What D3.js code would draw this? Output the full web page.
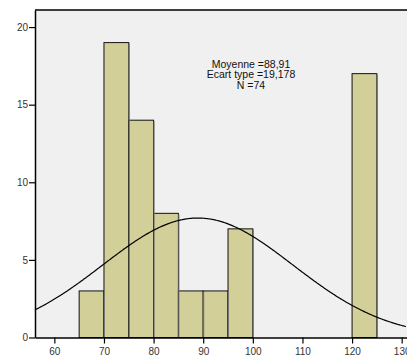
<!DOCTYPE html>
<html>
<head>
<meta charset="utf-8">
<script src="https://cdn.jsdelivr.net/npm/d3@7"></script>
<style>
  body { margin: 0; background: #fff; }
  text { font-family: "Liberation Sans", Arial, sans-serif; }
</style>
</head>
<body>
<svg id="chart" width="407" height="358"></svg>
<script>
// histogram bins (lower, upper) and counts
const binStarts = [65, 70, 75, 80, 85, 90, 95, 120];
const binWidth = 5;
const counts = [3, 19, 14, 8, 3, 3, 7, 17];
const xTicks = [60, 70, 80, 90, 100, 110, 120, 130];
const yTicks = [0, 5, 10, 15, 20];
const mean = 88.91, sd = 19.178, n = 74;
const statLines = ["Moyenne =88,91", "Ecart type =19,178", "N =74"];

const svg = d3.select("#chart");
const plotL = 35, plotR = 407, plotT = 10, plotB = 337.5;

const x = d3.scaleLinear().domain([56.1, 131.07]).range([plotL, plotR]);
const y = d3.scaleLinear().domain([0, 21.1]).range([plotB, plotT]);

svg.append("rect")
  .attr("x", plotL).attr("y", plotT)
  .attr("width", plotR - plotL).attr("height", plotB - plotT)
  .attr("fill", "#f0f0f0");

const bins = binStarts.map((s, i) => ({x0: s, x1: s + binWidth, n: counts[i]}));

svg.selectAll("rect.bar")
  .data(bins)
  .enter().append("rect")
  .attr("class", "bar")
  .attr("x", d => x(d.x0))
  .attr("y", d => y(d.n))
  .attr("width", d => x(d.x1) - x(d.x0))
  .attr("height", d => y(0) - y(d.n))
  .attr("fill", "#d3cf99")
  .attr("stroke", "#111")
  .attr("stroke-width", 1);

// shaded right edge of bars
svg.selectAll("line.shade")
  .data(bins)
  .enter().append("line")
  .attr("x1", d => x(d.x1) + 0.5).attr("x2", d => x(d.x1) + 0.5)
  .attr("y1", d => y(d.n) + 1).attr("y2", y(0))
  .attr("stroke", "#777").attr("stroke-width", 1);

// normal curve
const pdf = v => n * binWidth * Math.exp(-0.5 * ((v - mean) / sd) ** 2) / (sd * Math.sqrt(2 * Math.PI));
const pts = d3.range(56.1, 131.1, 0.25).map(v => [v, pdf(v)]);
svg.append("path")
  .datum(pts)
  .attr("fill", "none")
  .attr("stroke", "#000")
  .attr("stroke-width", 1.2)
  .attr("d", d3.line().x(d => x(d[0])).y(d => y(d[1])).curve(d3.curveBasis));

// frame lines
svg.append("line").attr("x1", plotL).attr("x2", plotR).attr("y1", plotT).attr("y2", plotT)
  .attr("stroke", "#000").attr("stroke-width", 1.5);

const xAxis = svg.append("g")
  .attr("transform", `translate(0,${plotB})`)
  .call(d3.axisBottom(x).tickValues(xTicks).tickSize(6).tickSizeOuter(0));
const yAxis = svg.append("g")
  .attr("transform", `translate(${plotL},0)`)
  .call(d3.axisLeft(y).tickValues(yTicks).tickSize(6).tickSizeOuter(0));

[xAxis, yAxis].forEach(g => {
  g.select(".domain").attr("stroke", "#000").attr("stroke-width", 1.5);
  g.selectAll(".tick line").attr("stroke", "#000").attr("stroke-width", 1.2);
  g.selectAll("text").attr("fill", "#333").style("font-size", "10px")
    .style("font-family", "'Liberation Sans', Arial, sans-serif");
});
xAxis.selectAll("text").attr("dy", "1em").attr("y", 7);
yAxis.selectAll("text").attr("x", -7);

svg.append("text")
  .attr("x", 251).attr("y", 68)
  .attr("text-anchor", "middle")
  .style("font-size", "10.5px")
  .attr("fill", "#111")
  .selectAll("tspan")
  .data(statLines)
  .enter().append("tspan")
  .attr("x", 251)
  .attr("dy", (d, i) => i === 0 ? 0 : "0.98em")
  .text(d => d);
</script>
</body>
</html>
